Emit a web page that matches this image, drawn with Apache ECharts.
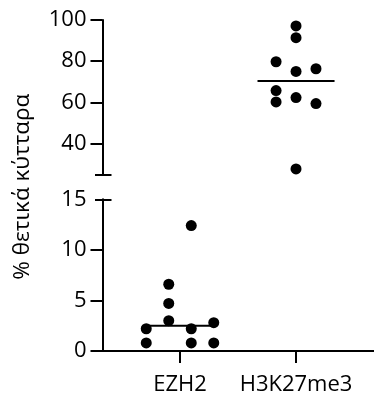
<!DOCTYPE html>
<html>
<head>
<meta charset="utf-8">
<script src="https://cdn.jsdelivr.net/npm/echarts@6/dist/echarts.min.js"></script>
<style>
html,body{margin:0;padding:0;background:#fff;}
#chart{width:374px;height:396px;}
</style>
</head>
<body>
<div id="chart"></div>
<script>
// ---- data ----
var categories = ['EZH2', 'H3K27me3'];
var ezh2Values = [12.4, 6.6, 4.7, 3.0, 2.2, 2.2, 2.8, 0.8, 0.8, 0.8];
var ezh2Columns = [0.5, -0.5, -0.5, -0.5, -1.5, 0.5, 1.5, -1.5, 0.5, 1.5];
var h3Values = [97.1, 91.4, 79.7, 75.0, 76.3, 65.7, 60.2, 62.3, 59.4, 27.6];
var h3Columns = [0, 0, -1, 0, 1, -1, -1, 0, 1, 0];
var upperTicks = [40, 60, 80, 100];
var lowerTicks = [0, 5, 10];
var lowerLabels = [0, 5, 10, 15];
var yTitle = '% θετικά κύτταρα';

// ---- layout / style ----
var FONT = 'Open Sans';
var FS = 22;
var ezh2Step = 0.194, h3Step = 0.172;
var ezh2Half = 0.29, h3Half = 0.332;

function median(a) {
  var s = a.slice().sort(function (x, y) { return x - y; });
  var n = s.length;
  return n % 2 ? s[(n - 1) / 2] : (s[n / 2 - 1] + s[n / 2]) / 2;
}
var ezh2Pts = ezh2Values.map(function (v, i) { return [0 + ezh2Columns[i] * ezh2Step, v]; });
var h3Pts = h3Values.map(function (v, i) { return [1 + h3Columns[i] * h3Step, v]; });
var ezh2Med = median(ezh2Values), h3Med = median(h3Values);

var XMIN = -0.668, XMAX = 1.672;
var lineStyle = { color: '#000', width: 2 };

function xAx(grid, show) {
  return {
    type: 'value', gridIndex: grid, min: XMIN, max: XMAX, show: show,
    splitLine: { show: false },
    axisLine: { show: show, onZero: false, lineStyle: lineStyle },
    axisTick: { show: show, length: 12, lineStyle: lineStyle, customValues: [0, 1] },
    axisLabel: {
      show: show, customValues: [0, 1], margin: 23,
      color: '#000', fontFamily: FONT, fontSize: FS,
      formatter: function (v) { return categories[Math.round(v)] || ''; }
    }
  };
}
function yMain(grid, min, max, ticks, labels) {
  return {
    type: 'value', gridIndex: grid, min: min, max: max, position: 'left', offset: 0,
    splitLine: { show: false },
    axisLine: { show: true, onZero: false, lineStyle: lineStyle },
    axisTick: { show: true, length: 12, lineStyle: lineStyle, customValues: ticks },
    axisLabel: { show: true, customValues: labels, margin: 16, color: '#000', fontFamily: FONT, fontSize: FS }
  };
}
function yBreak(grid, min, max, at, inside, len) {
  return {
    type: 'value', gridIndex: grid, min: min, max: max, position: 'left', offset: 0,
    splitLine: { show: false },
    axisLine: { show: false, onZero: false },
    axisTick: { show: true, inside: inside, length: len, lineStyle: lineStyle, customValues: [at] },
    axisLabel: { show: false }
  };
}

var option = {
  animation: false,
  backgroundColor: '#fff',
  grid: [
    { left: 102.5, right: 0, top: 20, height: 154.3 },
    { left: 102.5, right: 0, top: 199.3, height: 154 },
    { left: 102.5, right: 0, top: 20, height: 333.3 }
  ],
  xAxis: [xAx(0, false), xAx(1, true), xAx(2, false)],
  yAxis: [
    yMain(0, 25, 100, upperTicks, upperTicks),
    yBreak(0, 25, 100, 25, false, 7.5),
    yBreak(0, 25, 100, 25, true, 9),
    yMain(1, 0, 15, lowerTicks, lowerLabels),
    yBreak(1, 0, 15, 15, false, 7.5),
    yBreak(1, 0, 15, 15, true, 9),
    {
      type: 'value', gridIndex: 2, min: 0, max: 1, position: 'left',
      splitLine: { show: false }, axisLine: { show: false, onZero: false }, axisTick: { show: false }, axisLabel: { show: false },
      name: yTitle, nameLocation: 'middle', nameGap: 68, nameRotate: 90,
      nameTextStyle: { color: '#000', fontFamily: FONT, fontSize: 22.5 }
    }
  ],
  series: [
    {
      type: 'line', xAxisIndex: 1, yAxisIndex: 3, symbol: 'none', z: 1,
      lineStyle: lineStyle, data: [[-ezh2Half, ezh2Med], [ezh2Half, ezh2Med]]
    },
    {
      type: 'line', xAxisIndex: 0, yAxisIndex: 0, symbol: 'none', z: 1,
      lineStyle: lineStyle, data: [[1 - h3Half, h3Med], [1 + h3Half, h3Med]]
    },
    {
      type: 'scatter', xAxisIndex: 1, yAxisIndex: 3, symbolSize: 11, z: 3,
      itemStyle: { color: '#000', opacity: 1 }, data: ezh2Pts
    },
    {
      type: 'scatter', xAxisIndex: 0, yAxisIndex: 0, symbolSize: 11, z: 3,
      itemStyle: { color: '#000', opacity: 1 }, data: h3Pts
    }
  ]
};
var chart = echarts.init(document.getElementById('chart'), null, { renderer: 'canvas' });
chart.setOption(option);
</script>
</body>
</html>
